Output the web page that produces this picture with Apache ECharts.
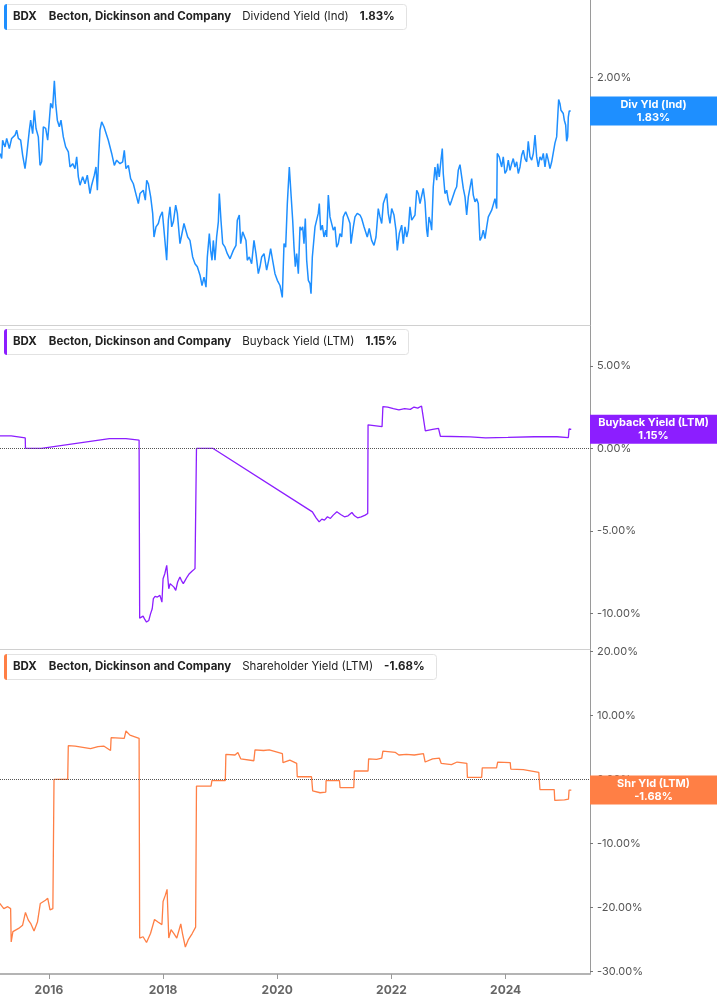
<!DOCTYPE html>
<html><head><meta charset="utf-8">
<script src="https://cdn.jsdelivr.net/npm/echarts@6/dist/echarts.min.js"></script>
<style>html,body{margin:0;padding:0;background:#fff}#c{width:717px;height:1005px}</style>
</head><body><div id="c"></div>
<script>
const ticker = 'BDX';
const company = 'Becton, Dickinson and Company';
const metricNames = ['Dividend Yield (Ind)', 'Buyback Yield (LTM)', 'Shareholder Yield (LTM)'];
const shortNames = ['Div Yld (Ind)', 'Buyback Yield (LTM)', 'Shr Yld (LTM)'];
const lastValues = [1.83, 1.15, -1.68];
const colors = ['#1e8fff', '#8c1eff', '#ff7f45'];
const yearTicks = [2016, 2018, 2020, 2022, 2024];
const divTicks = [2];
const buybackTicks = [-10, -5, 0, 5];
const shareTicks = [-30, -20, -10, 0, 10, 20];

const divYield = [
[2015.144,1.633],[2015.173,1.611],[2015.19,1.692],[2015.232,1.662],[2015.261,1.700],[2015.307,1.655],[2015.348,1.700],[2015.407,1.715],[2015.436,1.738],[2015.465,1.700],[2015.506,1.692],[2015.541,1.625],[2015.582,1.568],[2015.611,1.625],[2015.658,1.738],[2015.681,1.785],[2015.716,1.722],[2015.745,1.833],[2015.775,1.746],[2015.815,1.707],[2015.845,1.582],[2015.874,1.597],[2015.903,1.754],[2015.944,1.746],[2015.979,1.692],
[2016.008,1.785],[2016.031,1.867],[2016.066,1.843],[2016.096,1.983],[2016.119,1.867],[2016.148,1.785],[2016.183,1.754],[2016.212,1.785],[2016.253,1.707],[2016.294,1.662],[2016.341,1.640],[2016.37,1.575],[2016.417,1.589],[2016.457,1.568],[2016.487,1.618],[2016.516,1.534],[2016.545,1.500],[2016.592,1.534],[2016.633,1.506],[2016.673,1.541],[2016.72,1.467],[2016.749,1.500],[2016.796,1.541],[2016.825,1.575],[2016.849,1.480],[2016.872,1.618],[2016.895,1.738],[2016.925,1.777],[2016.965,1.754],
[2017.0,1.762],[2017.041,1.692],[2017.1,1.633],[2017.146,1.582],[2017.187,1.604],[2017.246,1.589],[2017.292,1.597],[2017.321,1.647],[2017.35,1.568],[2017.392,1.582],[2017.432,1.527],[2017.479,1.506],[2017.537,1.454],[2017.567,1.428],[2017.596,1.467],[2017.654,1.480],[2017.689,1.441],[2017.713,1.520],[2017.742,1.506],[2017.783,1.454],[2017.818,1.391],[2017.841,1.306],[2017.876,1.342],[2017.917,1.354],[2017.946,1.378],[2017.987,1.397],
[2018.016,1.330],[2018.063,1.227],[2018.092,1.366],[2018.121,1.416],[2018.151,1.342],[2018.18,1.360],[2018.221,1.422],[2018.25,1.391],[2018.296,1.283],[2018.325,1.312],[2018.366,1.354],[2018.401,1.360],[2018.431,1.306],[2018.471,1.294],[2018.518,1.238],[2018.559,1.216],[2018.6,1.206],[2018.647,1.179],[2018.682,1.147],[2018.717,1.173],[2018.752,1.142],[2018.775,1.238],[2018.81,1.318],[2018.833,1.260],[2018.857,1.227],[2018.88,1.294],[2018.909,1.227],[2018.938,1.306],[2018.968,1.360],[2018.985,1.467],
[2019.014,1.366],[2019.044,1.283],[2019.085,1.271],[2019.125,1.249],[2019.172,1.232],[2019.23,1.260],[2019.277,1.277],[2019.3,1.366],[2019.335,1.385],[2019.359,1.283],[2019.394,1.324],[2019.423,1.318],[2019.452,1.294],[2019.475,1.227],[2019.51,1.238],[2019.551,1.216],[2019.592,1.294],[2019.627,1.249],[2019.668,1.184],[2019.697,1.206],[2019.727,1.238],[2019.768,1.249],[2019.814,1.195],[2019.849,1.227],[2019.884,1.266],[2019.919,1.227],[2019.96,1.184],
[2020.001,1.163],[2020.048,1.147],[2020.088,1.111],[2020.118,1.283],[2020.147,1.271],[2020.176,1.428],[2020.211,1.575],[2020.24,1.467],[2020.27,1.366],[2020.293,1.271],[2020.316,1.206],[2020.34,1.249],[2020.369,1.184],[2020.398,1.342],
[2020.415,1.330],[2020.445,1.342],[2020.468,1.283],[2020.491,1.372],[2020.515,1.227],[2020.544,1.163],[2020.573,1.153],[2020.591,1.122],[2020.614,1.238],[2020.631,1.238],[2020.661,1.342],[2020.69,1.348],[2020.718,1.391],[2020.736,1.428],[2020.76,1.330],[2020.789,1.348],[2020.818,1.306],[2020.848,1.330],[2020.865,1.306],[2020.894,1.461],[2020.923,1.378],[2020.953,1.372],[2020.981,1.330],
[2021.011,1.342],[2021.04,1.271],[2021.069,1.283],[2021.098,1.318],[2021.128,1.306],[2021.156,1.378],[2021.198,1.397],[2021.244,1.372],[2021.274,1.354],[2021.291,1.283],[2021.332,1.342],[2021.361,1.378],[2021.401,1.391],[2021.449,1.385],[2021.478,1.372],[2021.519,1.342],[2021.554,1.348],[2021.576,1.306],[2021.611,1.336],[2021.653,1.294],[2021.694,1.277],[2021.729,1.306],[2021.769,1.409],[2021.799,1.378],[2021.829,1.354],[2021.857,1.428],[2021.887,1.435],[2021.916,1.467],[2021.944,1.391],[2021.974,1.354],
[2022.004,1.409],[2022.044,1.385],[2022.079,1.330],[2022.102,1.260],[2022.137,1.318],[2022.179,1.348],[2022.207,1.283],[2022.237,1.342],[2022.267,1.306],[2022.295,1.330],[2022.324,1.416],[2022.354,1.366],[2022.382,1.372],[2022.412,1.385],[2022.442,1.480],[2022.47,1.467],[2022.5,1.428],[2022.529,1.435],[2022.557,1.487],[2022.587,1.435],[2022.617,1.330],[2022.634,1.306],[2022.657,1.378],[2022.687,1.354],[2022.704,1.330],[2022.732,1.494],[2022.762,1.575],[2022.792,1.520],[2022.809,1.589],[2022.837,1.534],[2022.867,1.604],[2022.89,1.655],[2022.907,1.548],[2022.937,1.467],[2022.967,1.480],[2022.995,1.441],
[2023.025,1.422],[2023.055,1.441],[2023.083,1.447],[2023.113,1.480],[2023.142,1.494],[2023.17,1.561],[2023.2,1.585],[2023.23,1.534],[2023.258,1.487],[2023.288,1.454],[2023.317,1.385],[2023.346,1.454],[2023.375,1.461],[2023.405,1.527],[2023.433,1.461],[2023.463,1.435],[2023.492,1.447],[2023.52,1.428],[2023.55,1.294],[2023.58,1.306],[2023.608,1.330],[2023.638,1.300],[2023.668,1.342],[2023.696,1.378],[2023.726,1.378],[2023.755,1.403],[2023.783,1.409],[2023.813,1.447],[2023.843,1.409],[2023.853,1.633],[2023.888,1.618],[2023.93,1.575],[2023.958,1.618],[2023.988,1.548],
[2024.018,1.561],[2024.046,1.604],[2024.076,1.561],[2024.105,1.589],[2024.133,1.611],[2024.163,1.575],[2024.193,1.597],[2024.221,1.548],[2024.251,1.575],[2024.28,1.625],[2024.309,1.647],[2024.338,1.611],[2024.368,1.597],[2024.396,1.687],[2024.426,1.618],[2024.456,1.604],[2024.484,1.633],[2024.514,1.715],[2024.543,1.618],[2024.571,1.575],[2024.601,1.618],[2024.631,1.604],[2024.659,1.633],[2024.689,1.575],[2024.718,1.633],[2024.746,1.604],[2024.776,1.568],[2024.806,1.597],[2024.834,1.597],[2024.864,1.680],[2024.893,1.707],[2024.921,1.715],[2024.928,1.887],[2024.951,1.866],[2024.969,1.833],[2024.992,1.833],
[2025.009,1.817],[2025.027,1.785],[2025.051,1.762],[2025.068,1.687],[2025.086,1.707],[2025.097,1.800],[2025.114,1.830],[2025.139,1.830]
];

const buyback = [
[2015.144,0.75],[2015.34,0.75],[2015.345,0.63],[2015.586,0.63],[2015.59,0],[2015.87,0],[2017.06,0.59],[2017.35,0.59],[2017.58,0.49],
[2017.59,-10.29],[2017.65,-10.17],[2017.68,-10.37],[2017.71,-10.53],[2017.75,-10.43],[2017.78,-10.03],[2017.81,-9.72],[2017.83,-9.11],[2017.86,-8.97],[2017.90,-9.01],[2017.945,-8.91],[2017.98,-9.32],[2018.00,-7.90],[2018.03,-7.60],[2018.064,-7.09],[2018.10,-8.51],[2018.124,-8.20],[2018.157,-8.31],[2018.19,-8.41],[2018.222,-8.61],[2018.255,-8.10],[2018.295,-7.80],[2018.32,-8.00],[2018.354,-8.20],[2018.387,-8.00],[2018.42,-7.80],[2018.46,-7.60],[2018.506,-7.45],[2018.559,-7.29],[2018.578,-7.25],
[2018.585,0],[2018.87,0],
[2020.615,-3.85],[2020.65,-3.95],[2020.68,-4.21],[2020.734,-4.46],[2020.78,-4.29],[2020.826,-4.35],[2020.879,-4.15],[2020.93,-4.25],[2020.98,-4.05],[2021.044,-3.85],[2021.11,-4.01],[2021.176,-4.15],[2021.24,-4.09],[2021.307,-3.89],[2021.353,-4.09],[2021.406,-4.21],[2021.47,-4.15],[2021.54,-4.05],[2021.584,-3.95],
[2021.59,1.42],[2021.835,1.31],[2021.85,2.53],[2021.935,2.50],[2022.033,2.40],[2022.13,2.33],[2022.23,2.40],[2022.33,2.36],[2022.395,2.50],[2022.46,2.43],[2022.527,2.56],[2022.56,2.59],
[2022.593,1.05],[2022.72,1.15],[2022.824,1.21],[2022.857,0.73],[2023.38,0.69],[2023.647,0.63],[2024.04,0.66],[2024.5,0.70],[2024.9,0.70],[2025.098,0.65],[2025.11,1.17],[2025.149,1.15]
];

const shareholder = [
[2015.14,-19.4],[2015.21,-20.2],[2015.28,-19.9],[2015.33,-20.2],[2015.34,-25.4],[2015.37,-23.8],[2015.47,-23.3],[2015.54,-22.8],[2015.59,-20.8],[2015.64,-22.0],[2015.68,-22.5],[2015.74,-23.7],[2015.80,-22.3],[2015.85,-19.4],[2015.94,-18.9],[2015.98,-18.6],[2016.02,-20.4],[2016.07,-20.2],
[2016.09,0],[2016.33,0],[2016.34,5.25],[2016.46,5.2],[2016.73,4.8],[2016.86,5.1],[2016.96,5.2],[2017.08,4.5],[2017.09,6.5],[2017.32,6.4],[2017.35,7.55],[2017.42,6.9],[2017.58,6.4],
[2017.59,-24.8],[2017.65,-24.6],[2017.71,-25.5],[2017.78,-24.1],[2017.85,-21.9],[2017.91,-22.3],[2017.98,-22.7],[2018.00,-19.1],[2018.04,-18.1],[2018.07,-17.2],[2018.10,-24.8],[2018.14,-23.5],[2018.19,-24.1],[2018.24,-24.8],[2018.31,-22.6],[2018.34,-24.1],[2018.39,-26.2],[2018.44,-25.1],[2018.51,-24.1],[2018.57,-23.1],
[2018.585,-1.05],[2018.84,-1.05],[2018.855,-0.2],[2019.09,-0.2],[2019.10,3.9],[2019.26,3.8],[2019.31,4.2],[2019.36,3.2],[2019.59,2.9],[2019.61,4.6],[2019.76,4.5],[2019.86,4.6],[2020.09,4.0],[2020.10,2.6],[2020.22,3.0],[2020.34,2.5],[2020.35,0.4],[2020.60,0.4],[2020.62,-1.8],[2020.75,-2.1],[2020.85,-2.0],[2020.855,-0.2],[2021.09,-0.2],[2021.10,-1.3],[2021.34,-1.3],[2021.35,1.3],[2021.59,1.3],[2021.60,3.2],[2021.74,3.1],[2021.83,3.3],[2021.85,4.4],[2022.07,4.2],[2022.13,3.8],[2022.26,3.9],[2022.40,3.8],[2022.56,4.0],[2022.59,2.7],[2022.72,3.2],[2022.84,3.3],[2022.87,2.5],[2023.05,2.3],[2023.15,2.7],[2023.32,2.5],[2023.33,0.3],[2023.58,0.3],[2023.59,1.8],[2023.84,1.8],[2023.86,2.7],[2024.08,2.6],[2024.09,1.6],[2024.31,1.5],[2024.34,1.2],[2024.58,1.1],[2024.60,-1.6],[2024.85,-1.6],[2024.86,-3.3],[2025.03,-3.2],[2025.10,-3.1],[2025.11,-1.7],[2025.15,-1.68]
];

const xMin = 2015.144, xMax = 2025.477;
const FONT = 'Inter, "Noto Sans", sans-serif';
const HFS = 11.5;
const fmtPct = v => v.toFixed(2) + '%';

const chart = echarts.init(document.getElementById('c'), null, {renderer: 'canvas'});

const grids = [
  {left: 0, right: 127, top: 0, height: 325},
  {left: 0, right: 127, top: 325, height: 324},
  {left: 0, right: 127, top: 649, height: 325}
];

function xAxisFor(i) {
  const last = i === 2;
  return {
    type: 'value', gridIndex: i, min: xMin, max: xMax,
    splitLine: {show: false},
    axisLine: {show: true, onZero: false, lineStyle: {color: last ? '#b4b4b4' : '#d0d0d0', width: last ? 2 : 1}},
    axisTick: {show: last, customValues: yearTicks, length: 5, lineStyle: {color: '#999'}},
    axisLabel: {show: last, customValues: yearTicks, formatter: v => String(Math.round(v)),
      fontFamily: FONT, fontWeight: 'bold', fontSize: 12, color: '#666', margin: 10}
  };
}

function yAxisFor(i, type, min, max, ticks) {
  return {
    type: type, gridIndex: i, position: 'right', min: min, max: max,
    splitLine: {show: false},
    axisLine: {show: true, lineStyle: {color: '#9a9a9a', width: 1}},
    axisTick: {show: true, customValues: ticks, length: 3, lineStyle: {color: '#777'}},
    axisLabel: {show: true, customValues: ticks, formatter: v => fmtPct(v),
      fontFamily: FONT, fontSize: 11, color: '#555', margin: 7}
  };
}

const zeroLine = {
  silent: true, symbol: ['none', 'none'],
  lineStyle: {type: 'dotted', color: '#555', width: 1},
  label: {show: false}, emphasis: {disabled: true},
  data: [{yAxis: 0}]
};

const seriesData = [divYield, buyback, shareholder];

function headerTitle(i, top) {
  return {
    left: 4, top: top,
    text: '{t|' + ticker + '}{n|' + company + '}{m|' + metricNames[i] + '}{v|' + fmtPct(lastValues[i]) + '}',
    padding: [7, 12, 7, 9],
    backgroundColor: '#fff', borderColor: '#e2e2e2', borderWidth: 1, borderRadius: 3,
    textStyle: {
      fontFamily: FONT, fontSize: HFS, color: '#222',
      rich: {
        t: {fontFamily: FONT, fontSize: HFS, fontWeight: 'bold', color: '#222', padding: [0, 12, 0, 0]},
        n: {fontFamily: FONT, fontSize: HFS, fontWeight: 'bold', color: '#222', padding: [0, 11, 0, 0]},
        m: {fontFamily: FONT, fontSize: HFS, fontWeight: 'normal', color: '#222', padding: [0, 11, 0, 0]},
        v: {fontFamily: FONT, fontSize: HFS, fontWeight: 'bold', color: '#222'}
      }
    }
  };
}

const option = {
  animation: false,
  backgroundColor: '#fff',
  title: [headerTitle(0, 4), headerTitle(1, 329), headerTitle(2, 654)],
  grid: grids,
  xAxis: [xAxisFor(0), xAxisFor(1), xAxisFor(2)],
  yAxis: [
    Object.assign(yAxisFor(0, 'log', 1.032, 2.462, divTicks), {logBase: 10}),
    yAxisFor(1, 'value', -12.16, 7.47, buybackTicks),
    yAxisFor(2, 'value', -30.42, 20.36, shareTicks)
  ],
  series: seriesData.map((d, i) => ({
    type: 'line', xAxisIndex: i, yAxisIndex: i, data: d,
    showSymbol: false, symbol: 'none',
    lineStyle: {color: colors[i], width: i === 0 ? 1.5 : 1.3},
    markLine: i === 0 ? undefined : zeroLine,
    z: 3
  }))
};
chart.setOption(option);

// header colour bars + value badges on the axis
const graphics = [];
const headerTops = [4, 329, 654];
headerTops.forEach((t, i) => {
  graphics.push({type: 'rect', shape: {x: 4, y: t, width: 3, height: 26, r: [3, 0, 0, 3]},
    style: {fill: colors[i]}, z: 200});
});
lastValues.forEach((v, i) => {
  const py = chart.convertToPixel({yAxisIndex: i}, v);
  const px = chart.convertToPixel({xAxisIndex: i}, xMax);
  graphics.push({type: 'rect', shape: {x: px, y: py - 14.5, width: 717 - px, height: 29},
    style: {fill: colors[i]}, z: 200});
  graphics.push({type: 'text', x: (px + 717) / 2, y: py, z: 201,
    style: {text: shortNames[i] + '\n' + fmtPct(v), fill: '#fff', font: 'bold 11px ' + FONT,
      align: 'center', verticalAlign: 'middle', lineHeight: 13}});
});
chart.setOption({graphic: graphics});
</script>
</body></html>
